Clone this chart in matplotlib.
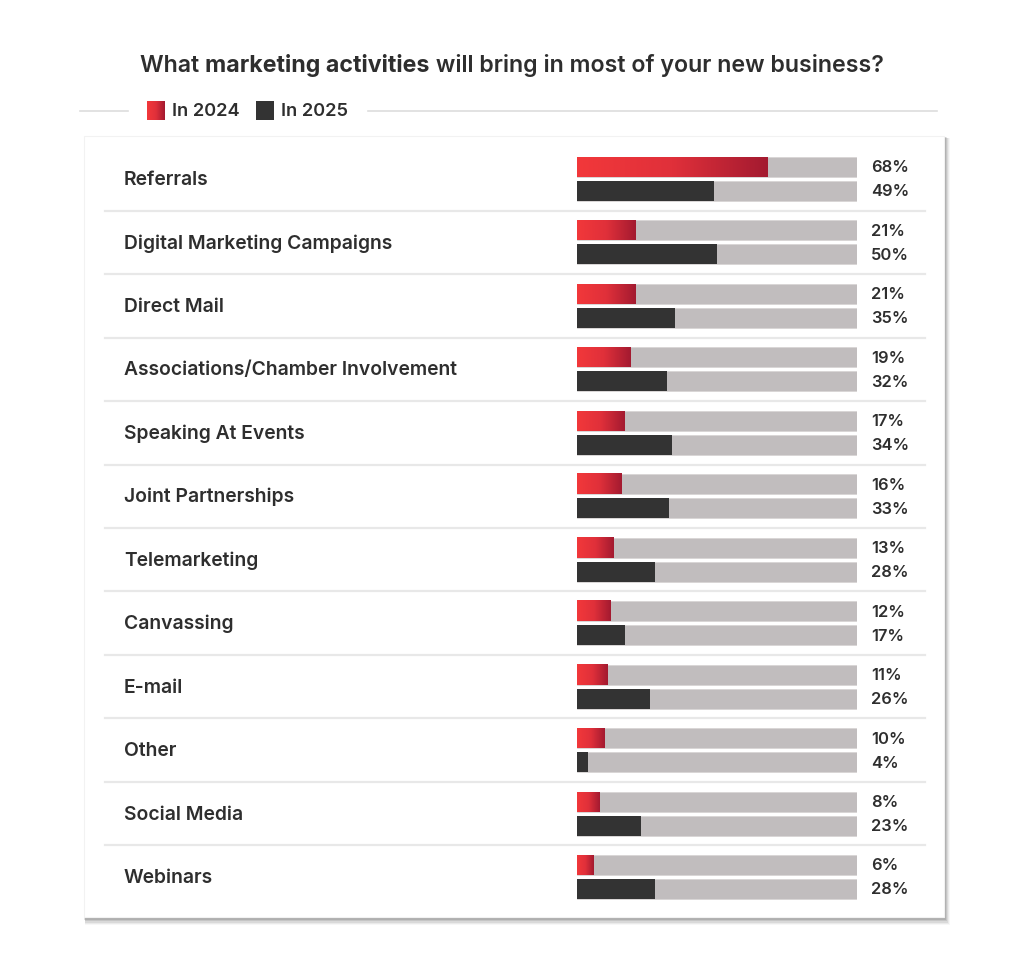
import numpy as np
import matplotlib
matplotlib.use("Agg")
import matplotlib.pyplot as plt
from matplotlib.patches import Rectangle
from matplotlib.colors import LinearSegmentedColormap
import matplotlib.transforms as mtransforms

categories = ["Referrals", "Digital Marketing Campaigns", "Direct Mail",
              "Associations/Chamber Involvement", "Speaking At Events",
              "Joint Partnerships", "Telemarketing", "Canvassing", "E-mail",
              "Other", "Social Media", "Webinars"]
in_2024 = [68, 21, 21, 19, 17, 16, 13, 12, 11, 10, 8, 6]
in_2025 = [49, 50, 35, 32, 34, 33, 28, 17, 26, 4, 23, 28]
series_labels = ["In 2024", "In 2025"]
title_parts = [("What ", "semibold"), ("marketing activities", "bold"),
               (" will bring in most of your new business?", "semibold")]

FONT = ["Inter", "DejaVu Sans"]
plt.rcParams["font.family"] = FONT
TXT = "#2e2e2e"
TRACK = "#c1bdbe"
DARK = "#333333"
red_cmap = LinearSegmentedColormap.from_list("r", ["#f2383a", "#e0303a", "#a31a30"])

W, H = 1024, 979
fig = plt.figure(figsize=(W / 100, H / 100), dpi=100)
fig.patch.set_facecolor("white")
renderer = fig.canvas.get_renderer()

def fx(px):
    return px / W

def fy(py):
    return 1 - py / H

def fit_size(s, weight, target_px, base=10.0):
    t = fig.text(0, 0, s, fontsize=base, fontweight=weight)
    w = t.get_window_extent(renderer).width
    t.remove()
    return base * target_px / w

bg = fig.add_axes([0, 0, 1, 1])
bg.set_xlim(0, W)
bg.set_ylim(H, 0)
bg.axis("off")

# card shadow + card
for i, a in enumerate([0.03, 0.05, 0.07, 0.09, 0.11]):
    off = 6 - i
    bg.add_patch(Rectangle((84 + off * 0.2, 137 + off * 0.4), 860 + off * 0.8, 781 + off,
                           facecolor="#000000", alpha=a, edgecolor="none", zorder=1))
bg.add_patch(Rectangle((84, 137), 860, 781, facecolor="white", edgecolor="#f2f2f2",
                       linewidth=0.8, zorder=2))

bg.plot([80, 128], [112, 112], color="#dddddd", lw=1.2, zorder=2)
bg.plot([368, 937], [112, 112], color="#dddddd", lw=1.2, zorder=2)

# title (mixed weights), sized to span the reference width
pieces = []
for s, wgt in title_parts:
    tt = fig.text(0, fy(66), s, fontsize=13, fontweight=wgt, color=TXT, va="center")
    pieces.append(tt)
tot = sum(p.get_window_extent(renderer).width for p in pieces)
tsize = 13 * 743 / tot
for p in pieces:
    p.set_fontsize(tsize)
widths = [p.get_window_extent(renderer).width for p in pieces]
start = 512 - sum(widths) / 2
for p, w in zip(pieces, widths):
    p.set_x(start / W)
    start += w

n = len(categories)
row_h = 63.45
top = 180 - row_h / 2
ax_left, ax_right = 577, 857
ax = fig.add_axes([fx(ax_left), fy(top + n * row_h), (ax_right - ax_left) / W, n * row_h / H])
ax.set_zorder(3)
ax.axis("off")

bh = 20 / row_h
gap = 4 / row_h
y = np.arange(n)
y_red = y - gap / 2 - bh / 2
y_dark = y + gap / 2 + bh / 2

ax.barh(y_red, [100] * n, height=bh, color=TRACK, edgecolor="#d8d5d5", linewidth=0.6, zorder=1)
ax.barh(y_dark, [100] * n, height=bh, color=TRACK, edgecolor="#d8d5d5", linewidth=0.6, zorder=1)
ax.barh(y_dark, in_2025, height=bh, color=DARK, edgecolor="none", zorder=2)
grad = np.linspace(0, 1, 256).reshape(1, -1)
for yi, v in zip(y_red, in_2024):
    ax.imshow(grad, cmap=red_cmap, aspect="auto", interpolation="bilinear",
              extent=(0, v, yi + bh / 2, yi - bh / 2), zorder=2)
ax.set_xlim(0, 100)
ax.set_ylim(n - 0.5, -0.5)

sep = mtransforms.blended_transform_factory(fig.transFigure, ax.transData)
for i in range(n - 1):
    ax.plot([fx(105), fx(925)], [i + 0.5, i + 0.5], transform=sep, color="#e8e8e8",
            lw=1.6, clip_on=False, zorder=0)

FS = fit_size("Associations/Chamber Involvement", "semibold", 333)
PS = fit_size("68%", "semibold", 38)
LS = fit_size("In 2024", "semibold", 68)
for i, c in enumerate(categories):
    ax.text(fx(124), i, c, transform=sep, fontsize=FS, fontweight="semibold",
            color=TXT, va="center", ha="left")
for yi, v in zip(y_red, in_2024):
    ax.text(fx(871), yi, f"{v}%", transform=sep, fontsize=PS, fontweight="semibold",
            color=TXT, va="center", ha="left")
for yi, v in zip(y_dark, in_2025):
    ax.text(fx(871), yi, f"{v}%", transform=sep, fontsize=PS, fontweight="semibold",
            color=TXT, va="center", ha="left")

lg = fig.add_axes([0, 0, 1, 1])
lg.axis("off")
lg.imshow(np.linspace(0, 1, 64).reshape(1, -1), cmap=red_cmap, aspect="auto",
          extent=(147, 165, 121, 102), zorder=3)
lg.add_patch(Rectangle((256, 102), 18, 19, facecolor=DARK, edgecolor="none", zorder=3))
lg.text(172, 111.5, series_labels[0], fontsize=LS, fontweight="semibold", color=TXT, va="center")
lg.text(281, 111.5, series_labels[1], fontsize=LS, fontweight="semibold", color=TXT, va="center")
lg.set_xlim(0, W)
lg.set_ylim(H, 0)

fig.savefig("out.png", dpi=100, facecolor="white")
